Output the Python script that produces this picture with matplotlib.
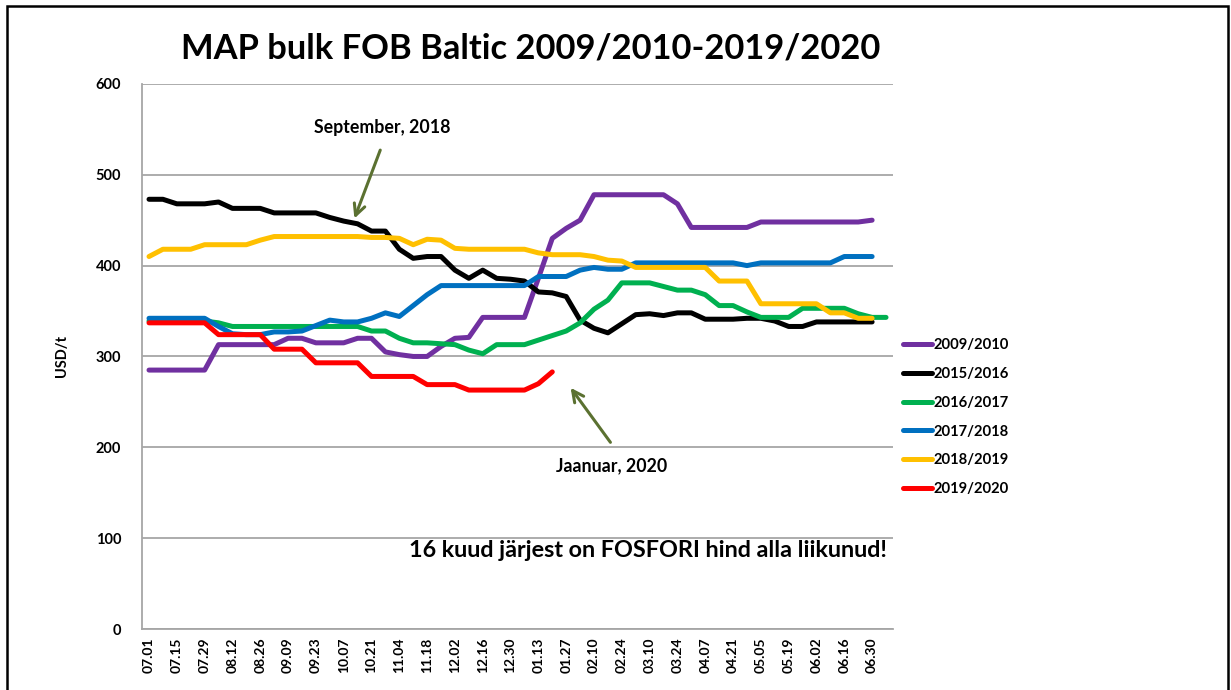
import matplotlib
matplotlib.use("Agg")
import matplotlib.pyplot as plt
from matplotlib.patches import Rectangle

plt.rcParams['font.family'] = ['Lato', 'DejaVu Sans']
plt.rcParams['font.weight'] = 'bold'

# weekly dates, a label every second week
tick_labels = ["07.01", "07.15", "07.29", "08.12", "08.26", "09.09", "09.23",
               "10.07", "10.21", "11.04", "11.18", "12.02", "12.16", "12.30",
               "01.13", "01.27", "02.10", "02.24", "03.10", "03.24", "04.07",
               "04.21", "05.05", "05.19", "06.02", "06.16", "06.30"]

s2009 = [285, 285, 285, 285, 285, 313, 313, 313, 313, 313, 320, 320, 315, 315,
         315, 320, 320, 305, 302, 300, 300, 311, 320, 321, 343, 343, 343, 343,
         386, 430, 441, 450, 478, 478, 478, 478, 478, 478, 468, 442, 442, 442,
         442, 442, 448, 448, 448, 448, 448, 448, 448, 448, 450]
s2015 = [473, 473, 468, 468, 468, 470, 463, 463, 463, 458, 458, 458, 458, 453,
         449, 446, 438, 438, 418, 408, 410, 410, 395, 386, 395, 386, 385, 383,
         371, 370, 366, 340, 331, 326, 336, 346, 347, 345, 348, 348, 341, 341,
         341, 342, 342, 339, 333, 333, 338, 338, 338, 338, 338]
s2016 = [339, 339, 339, 339, 339, 337, 333, 333, 333, 333, 333, 333, 333, 333,
         333, 333, 328, 328, 320, 315, 315, 314, 313, 307, 303, 313, 313, 313,
         318, 323, 328, 337, 352, 362, 381, 381, 381, 377, 373, 373, 368, 356,
         356, 349, 343, 343, 343, 353, 353, 353, 353, 347, 343, 343]
s2017 = [342, 342, 342, 342, 342, 333, 325, 324, 324, 327, 327, 328, 334, 340,
         338, 338, 342, 348, 344, 356, 368, 378, 378, 378, 378, 378, 378, 378,
         388, 388, 388, 395, 398, 396, 396, 403, 403, 403, 403, 403, 403, 403,
         403, 400, 403, 403, 403, 403, 403, 403, 410, 410, 410]
s2018 = [410, 418, 418, 418, 423, 423, 423, 423, 428, 432, 432, 432, 432, 432,
         432, 432, 431, 431, 430, 423, 429, 428, 419, 418, 418, 418, 418, 418,
         414, 412, 412, 412, 410, 406, 405, 398, 398, 398, 398, 398, 398, 383,
         383, 383, 358, 358, 358, 358, 358, 348, 348, 342, 342]
s2019 = [337, 337, 337, 337, 337, 324, 324, 324, 324, 308, 308, 308, 293, 293,
         293, 293, 278, 278, 278, 278, 269, 269, 269, 263, 263, 263, 263, 263,
         270, 283]

series = [("2009/2010", s2009, "#7030a0"),
          ("2015/2016", s2015, "#000000"),
          ("2016/2017", s2016, "#00b050"),
          ("2017/2018", s2017, "#0070c0"),
          ("2018/2019", s2018, "#ffc000"),
          ("2019/2020", s2019, "#ff0000")]

fig = plt.figure(figsize=(12.31, 6.9), dpi=100)
ax = fig.add_axes([0.1154, 0.0884, 0.61, 0.79])

for name, vals, col in series:
    ax.plot(range(len(vals)), vals, color=col, lw=3.6, label=name,
            solid_capstyle='round', solid_joinstyle='round')

ax.set_xlim(-0.5, 53.5)
ax.set_ylim(0, 600)
ax.set_yticks(range(0, 601, 100))
ax.set_xticks(range(0, 53, 2))
ax.set_xticklabels(tick_labels, rotation=90, fontsize=10, fontweight='bold')
ax.tick_params(axis='y', labelsize=10.5, length=0, pad=15)
ax.tick_params(axis='x', length=0, pad=6)
ax.grid(axis='y', color='#a6a6a6', lw=1.3)
ax.set_axisbelow(True)
for side in ['top', 'right']:
    ax.spines[side].set_visible(False)
for side in ['left', 'bottom']:
    ax.spines[side].set_color('#a6a6a6')
    ax.spines[side].set_linewidth(1.3)
ax.set_ylabel("USD/t", fontsize=10.5, fontweight='bold', labelpad=19)

leg = ax.legend(loc='upper left', bbox_to_anchor=(1.005, 0.544), frameon=False,
                fontsize=10.6, handlelength=2.0, handletextpad=0.1,
                labelspacing=1.0, borderaxespad=0)

fig.text(0.431, 0.93, "MAP bulk FOB Baltic 2009/2010-2019/2020",
         ha='center', va='center', fontsize=24.8, fontweight='bold')

arrow_col = '#5b7131'
ax.annotate("", xy=(14.7, 449), xytext=(16.7, 530),
            arrowprops=dict(arrowstyle='->,head_length=0.8,head_width=0.4',
                            color=arrow_col, lw=2.2))
ax.text(16.8, 552, "September, 2018", ha='center', va='center', fontsize=12.8,
        fontweight='bold')
ax.annotate("", xy=(30.2, 268), xytext=(33.3, 203),
            arrowprops=dict(arrowstyle='->,head_length=0.8,head_width=0.4',
                            color=arrow_col, lw=2.2))
ax.text(33.3, 180, "Jaanuar, 2020", ha='center', va='center', fontsize=12.8,
        fontweight='bold')
ax.text(35.9, 86, "16 kuud järjest on FOSFORI hind alla liikunud!", ha='center',
        va='center', fontsize=16.8, fontweight='bold')

fig.add_artist(Rectangle((7 / 1231, -0.02), 1221 / 1231, 1 - 6 / 690 + 0.02,
                         transform=fig.transFigure, fill=False, lw=1.8,
                         edgecolor='black'))

fig.savefig("out.png", dpi=100)
